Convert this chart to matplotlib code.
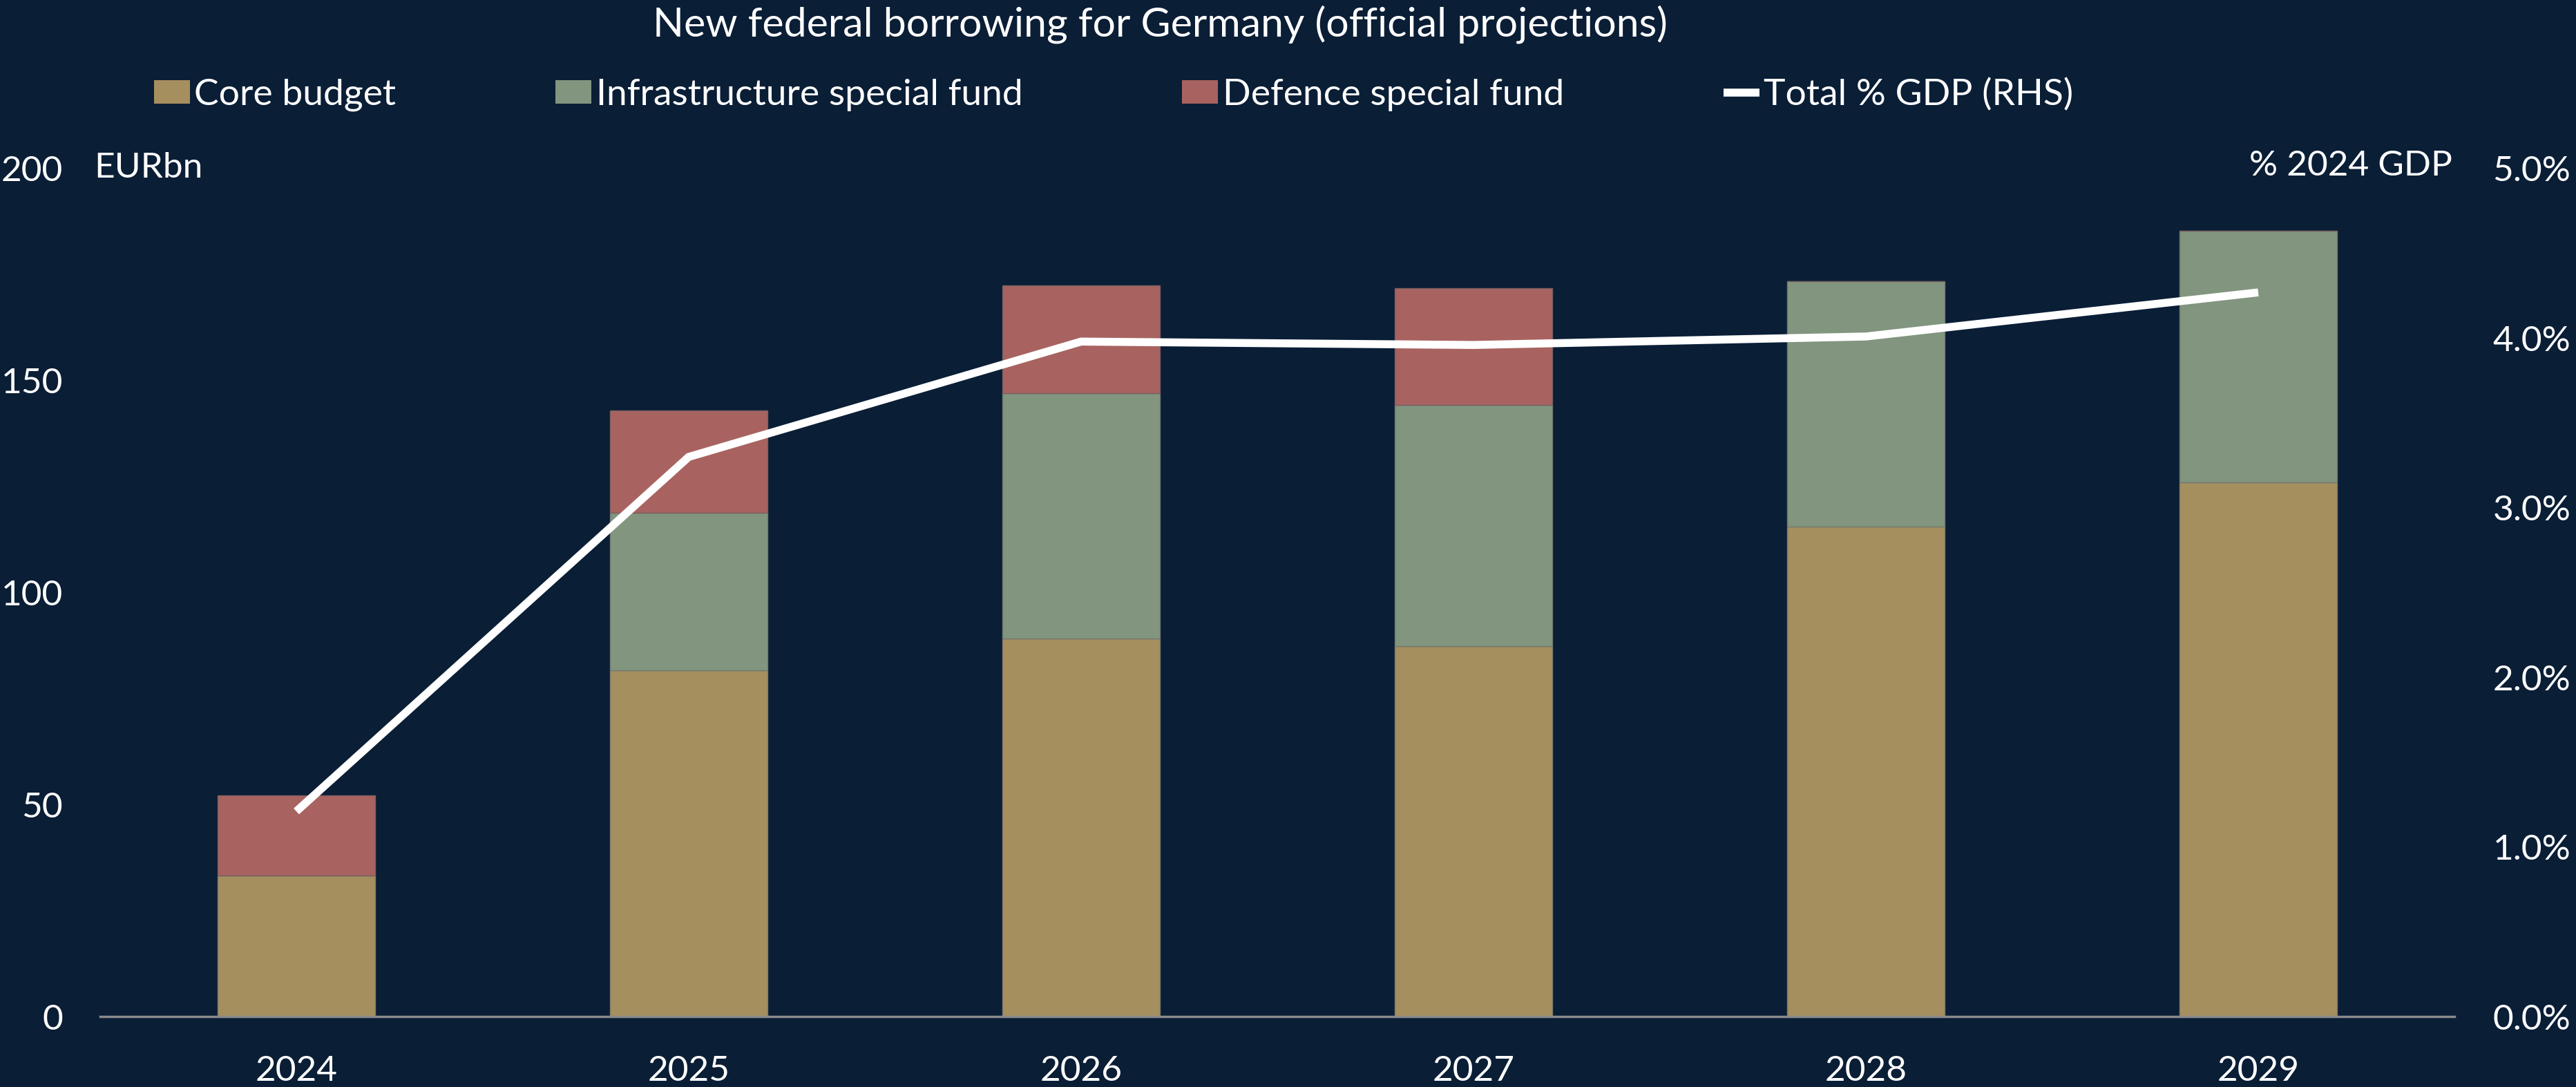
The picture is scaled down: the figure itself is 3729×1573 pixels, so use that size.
import numpy as np
import matplotlib
matplotlib.use("Agg")
import matplotlib.pyplot as plt
from matplotlib.patches import Patch
from matplotlib.lines import Line2D
from matplotlib.ticker import FuncFormatter

# 年份與各項借款 (EUR bn)
years = ["2024", "2025", "2026", "2027", "2028", "2029"]
core_budget = [33.3, 81.7, 89.1, 87.3, 115.6, 126.0]
infra_fund = [0.0, 37.1, 57.9, 57.0, 57.9, 59.3]
defence_fund = [18.9, 24.1, 25.5, 27.5, 0.0, 0.0]
# 總借款佔 2024 年 GDP 比例 (%)
total_pct_gdp = [1.21, 3.30, 3.98, 3.96, 4.01, 4.27]

bg = "#0A1E36"
c_core = "#A68F5E"
c_infra = "#82957F"
c_def = "#A86360"
fs = 37
font = ["Lato", "DejaVu Sans"]
plt.rcParams["font.family"] = font

fig = plt.figure(figsize=(37.29, 15.73), dpi=100, facecolor=bg)
ax = fig.add_axes([145 / 3729, 102 / 1573, (3553 - 145) / 3729, 1227 / 1573])
ax.set_facecolor(bg)
ax2 = ax.twinx()

x = np.arange(len(years))
w = 0.4
core = np.array(core_budget)
infra = np.array(infra_fund)
defence = np.array(defence_fund)
ax.bar(x, core, w, color=c_core, edgecolor="#7d7a6a", linewidth=1)
ax.bar(x, infra, w, bottom=core, color=c_infra, edgecolor="#6f7a6f", linewidth=1)
ax.bar(x, defence, w, bottom=core + infra, color=c_def, edgecolor="#7a5f5f", linewidth=1)

ax2.plot(x, total_pct_gdp, color="white", linewidth=8.3,
         solid_joinstyle="miter", solid_capstyle="butt")

ax.set_xlim(-0.5, 5.5)
ax.set_ylim(0, 200)
ax.set_yticks([0, 50, 100, 150, 200])
ax2.set_ylim(0, 5)
ax2.set_yticks([0, 1, 2, 3, 4, 5])
ax2.yaxis.set_major_formatter(FuncFormatter(lambda v, p: f"{v:.1f}%"))
ax.set_xticks(x)
ax.set_xticklabels(years)

for a in (ax, ax2):
    for s in a.spines.values():
        s.set_visible(False)
    a.tick_params(length=0, colors="white", labelsize=fs)
ax.spines["bottom"].set_visible(True)
ax.spines["bottom"].set_color("#8a8a8a")
ax.spines["bottom"].set_linewidth(2.5)
ax.tick_params(axis="y", pad=39)
ax.tick_params(axis="x", pad=40)
ax2.tick_params(axis="y", pad=40)

fig.text(1679 / 3729, 1 - 35 / 1573, "New federal borrowing for Germany (official projections)",
         color="white", fontsize=42.5, ha="center", va="center")
fig.text(136 / 3729, 1 - 243 / 1573, "EURbn", color="white", fontsize=fs, ha="left", va="center")
fig.text(3550 / 3729, 1 - 240 / 1573, "% 2024 GDP", color="white", fontsize=fs, ha="right", va="center")

handles = [Patch(facecolor=c_core), Patch(facecolor=c_infra), Patch(facecolor=c_def),
           Line2D([], [], color="white", linewidth=8.3, solid_capstyle="butt")]
labels = ["Core budget", "Infrastructure special fund", "Defence special fund", "Total % GDP (RHS)"]
leg = fig.legend(handles, labels, loc="center left", bbox_to_anchor=(223 / 3729, 1 - 137 / 1573),
                 ncol=4, frameon=False, fontsize=38.5, labelcolor="white",
                 handlelength=0.97, handleheight=0.6, handletextpad=0.12,
                 columnspacing=4.32, borderpad=0, borderaxespad=0)

fig.savefig("out.png", dpi=100, facecolor=bg)
